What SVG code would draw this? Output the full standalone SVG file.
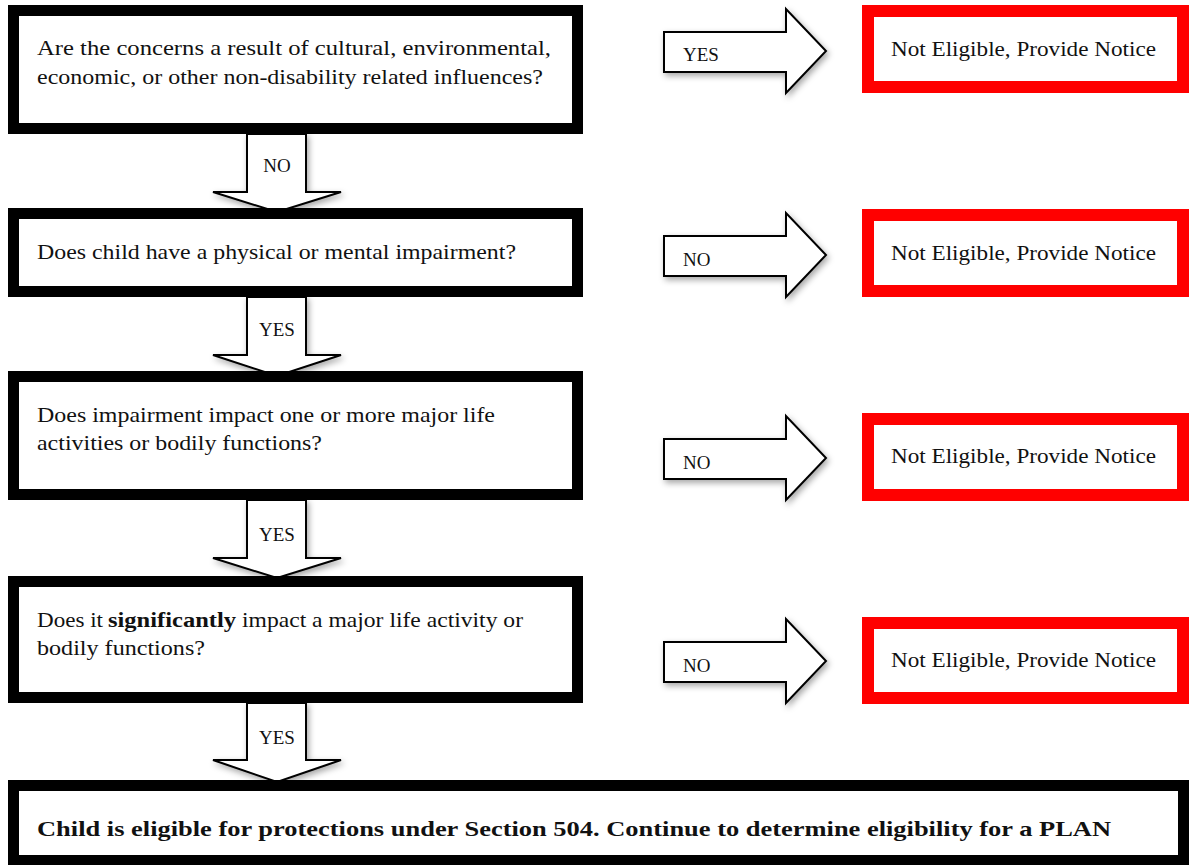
<svg xmlns="http://www.w3.org/2000/svg" width="1189" height="865" viewBox="0 0 1189 865">
<defs>
<filter id="sh" x="-20%" y="-20%" width="150%" height="150%">
<feDropShadow dx="2" dy="3" stdDeviation="3" flood-color="#000" flood-opacity="0.35"/>
</filter>
<style>
.q{fill:#fff;stroke:#000;stroke-width:11}
.r{fill:#fff;stroke:#ff0000;stroke-width:12}
.ar{fill:#fff;stroke:#000;stroke-width:2;stroke-linejoin:miter;filter:url(#sh)}
.t{font-family:"Liberation Serif","Times New Roman",serif;font-size:21px;fill:#111}
.b{font-weight:bold}
.l{font-family:"Liberation Serif","Times New Roman",serif;font-size:19px;fill:#111}
.m{text-anchor:middle}
</style>
</defs>
<rect width="1189" height="865" fill="#fff"/>
<g id="connectors">
<path class="ar" d="M247,134 L306,134 L306,192 L341,192 L277,212 L213,192 L247,192 Z"/>
<text class="l m" x="277" y="172">NO</text>
<path class="ar" d="M247,297 L306,297 L306,355 L341,355 L277,376 L213,355 L247,355 Z"/>
<text class="l m" x="277" y="336">YES</text>
<path class="ar" d="M247,500 L306,500 L306,558 L341,558 L277,578 L213,558 L247,558 Z"/>
<text class="l m" x="277" y="541">YES</text>
<path class="ar" d="M247,703 L306,703 L306,760 L341,760 L277,782 L213,760 L247,760 Z"/>
<text class="l m" x="277" y="744">YES</text>
<path class="ar" d="M664,32 L786,32 L786,9 L826,51 L786,93 L786,72 L664,72 Z"/>
<text class="l" x="683" y="61">YES</text>
<path class="ar" d="M664,236 L786,236 L786,213 L826,255 L786,297 L786,276 L664,276 Z"/>
<text class="l" x="683" y="266">NO</text>
<path class="ar" d="M664,439 L786,439 L786,416 L826,458 L786,500 L786,479 L664,479 Z"/>
<text class="l" x="683" y="469">NO</text>
<path class="ar" d="M664,642 L786,642 L786,619 L826,661 L786,703 L786,682 L664,682 Z"/>
<text class="l" x="683" y="672">NO</text>
</g>
<g id="q1">
<rect class="q" x="13.5" y="10.5" width="564" height="118"/>
<text class="t" x="37" y="55" textLength="514" lengthAdjust="spacingAndGlyphs">Are the concerns a result of cultural, environmental,</text>
<text class="t" x="37" y="84" textLength="506" lengthAdjust="spacingAndGlyphs">economic, or other non-disability related influences?</text>
</g>
<g id="q2">
<rect class="q" x="13.5" y="213.5" width="564" height="78"/>
<text class="t" x="37" y="259" textLength="479" lengthAdjust="spacingAndGlyphs">Does child have a physical or mental impairment?</text>
</g>
<g id="q3">
<rect class="q" x="13.5" y="376.5" width="564" height="118"/>
<text class="t" x="37" y="422" textLength="458" lengthAdjust="spacingAndGlyphs">Does impairment impact one or more major life</text>
<text class="t" x="37" y="450" textLength="285" lengthAdjust="spacingAndGlyphs">activities or bodily functions?</text>
</g>
<g id="q4">
<rect class="q" x="13.5" y="581.5" width="564" height="116"/>
<text class="t" x="37" y="627" textLength="66" lengthAdjust="spacingAndGlyphs">Does it</text>
<text class="t b" x="108" y="627" textLength="128" lengthAdjust="spacingAndGlyphs">significantly</text>
<text class="t" x="242" y="627" textLength="281" lengthAdjust="spacingAndGlyphs">impact a major life activity or</text>
<text class="t" x="37" y="655" textLength="168" lengthAdjust="spacingAndGlyphs">bodily functions?</text>
</g>
<g id="result">
<rect class="q" x="13.5" y="785.5" width="1170" height="75"/>
<text class="t b" x="37" y="836" font-size="23" textLength="1074" lengthAdjust="spacingAndGlyphs">Child is eligible for protections under Section 504. Continue to determine eligibility for a PLAN</text>
</g>
<g id="ne1">
<rect class="r" x="868" y="11" width="315" height="76"/>
<text class="t" x="891" y="56" textLength="265" lengthAdjust="spacingAndGlyphs">Not Eligible, Provide Notice</text>
</g>
<g id="ne2">
<rect class="r" x="868" y="215" width="315" height="76"/>
<text class="t" x="891" y="260" textLength="265" lengthAdjust="spacingAndGlyphs">Not Eligible, Provide Notice</text>
</g>
<g id="ne3">
<rect class="r" x="868" y="419" width="315" height="76"/>
<text class="t" x="891" y="463" textLength="265" lengthAdjust="spacingAndGlyphs">Not Eligible, Provide Notice</text>
</g>
<g id="ne4">
<rect class="r" x="868" y="623" width="315" height="75"/>
<text class="t" x="891" y="667" textLength="265" lengthAdjust="spacingAndGlyphs">Not Eligible, Provide Notice</text>
</g>
</svg>
